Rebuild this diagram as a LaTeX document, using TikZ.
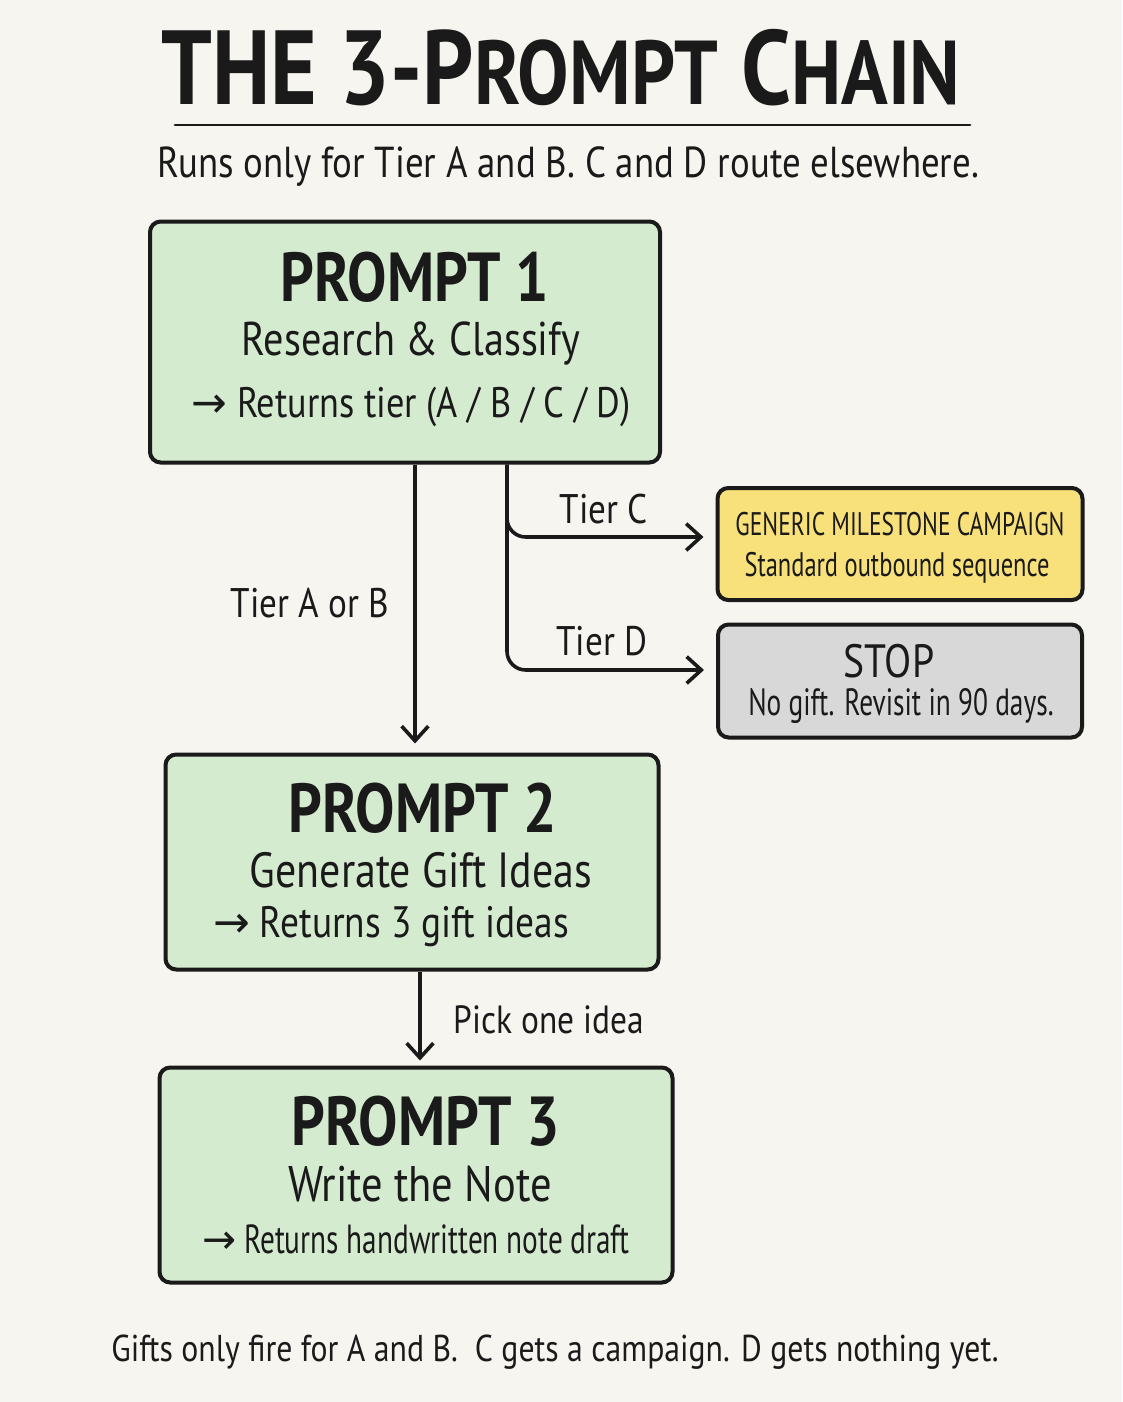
\documentclass[tikz,border=0pt]{standalone}
\usepackage{fontspec}
\usetikzlibrary{arrows.meta,calc}
\newfontfamily\hand[FakeStretch=0.85]{PT Sans}
\newfontfamily\handn[FakeStretch=0.72]{PT Sans}
\newfontfamily\symfont{DejaVu Sans}
\newcommand{\harr}{{\symfont →}}
\definecolor{bg}{HTML}{F7F5EF}
\definecolor{greenfill}{HTML}{D5EBD0}
\definecolor{yellowfill}{HTML}{F8E07A}
\definecolor{grayfill}{HTML}{D8D8D8}
\definecolor{ink}{HTML}{1A1A1A}
\newcommand{\fs}[1]{\fontsize{#1}{#1}\selectfont}
\tikzset{
  box/.style={draw=ink, line width=3pt, rounded corners=8pt, inner sep=0pt},
  greenbox/.style={box, fill=greenfill},
  yellowbox/.style={box, fill=yellowfill},
  graybox/.style={box, fill=grayfill},
  txt/.style={text=ink, inner sep=0pt},
  head/.style={txt, font=\hand\bfseries\fs{52}},
  lbl/.style={txt, font=\hand\fs{31}},
  arr/.style={draw=ink, line width=2.7pt, -{Straight Barb[length=11pt,width=20pt,line width=2.7pt]}},
}
\begin{document}
\begin{tikzpicture}[x=0.75pt,y=-0.75pt]
\fill[bg] (0,0) rectangle (1122,1402);
\useasboundingbox (0,0) rectangle (1122,1402);
% title
\node[txt, font=\hand\bfseries\fs{79}] (title) at (561,68)
  {THE 3-P{\fs{68}ROMPT} C{\fs{68}HAIN}};
\coordinate (ul1) at (175,125);
\coordinate (ul2) at (970,125);
\draw[ink, line width=2.2pt, line cap=round] (ul1) -- (ul2);
\node[txt, font=\hand\fs{32.5}] (sub) at (568,167) {Runs only for Tier A and B. C and D route elsewhere.};
% prompt 1
\node[greenbox, minimum width={510*0.75pt}, minimum height={241*0.75pt}] (p1) at (405,342) {};
\node[head] (p1h) at (415,277) {PROMPT 1};
\node[txt, font=\hand\fs{35.5}] (p1a) at (411,343) {Research \& Classify};
\node[txt, font=\hand\fs{32}] (p1b) at (411,407) {\harr\ Returns tier (A / B / C / D)};
% prompt 2
\node[greenbox, minimum width={493*0.75pt}, minimum height={215*0.75pt}] (p2) at (412,862) {};
\node[head] (p2h) at (423,808) {PROMPT 2};
\node[txt, font=\hand\fs{37}] (p2a) at (421,870) {Generate Gift Ideas};
\node[txt, font=\hand\fs{33}] (p2b) at (391,927) {\harr\ Returns 3 gift ideas};
% prompt 3
\node[greenbox, minimum width={513*0.75pt}, minimum height={215*0.75pt}] (p3) at (416,1175) {};
\node[head] (p3h) at (426,1121) {PROMPT 3};
\node[txt, font=\hand\fs{37.5}] (p3a) at (420,1184) {Write the Note};
\node[txt, font=\handn\fs{30.5}] (p3b) at (416,1239) {\harr\ Returns handwritten note draft};
% side boxes
\node[yellowbox, minimum width={365*0.75pt}, minimum height={112*0.75pt}] (yel) at (900,544) {};
\node[txt, font=\handn\fs{24.5}] (yela) at (900,524) {GENERIC MILESTONE CAMPAIGN};
\node[txt, font=\handn\fs{25.5}] (yelb) at (897,568) {Standard outbound sequence};
\node[graybox, minimum width={364*0.75pt}, minimum height={113*0.75pt}] (gry) at (900,681) {};
\node[txt, font=\hand\fs{35}] (gryh) at (889,661) {STOP};
\node[txt, font=\handn\fs{28.5}] (gryb) at (901,706) {No gift. Revisit in 90 days.};
% connectors
\coordinate (xa) at (415,0);
\coordinate (xc) at (507,0);
\coordinate (xb) at (420,0);
\draw[arr, shorten >=9*0.75pt] (p1.south -| xa) -- (p2.north -| xa);
\draw[arr, rounded corners=14pt, shorten >=12*0.75pt] (p1.south -| xc) |- ($(yel.west)+(0,-7)$);
\draw[arr, rounded corners=14pt, shorten >=12*0.75pt] (p1.south -| xc) |- ($(gry.west)+(0,-11)$);
\draw[arr, shorten >=5*0.75pt] (p2.south -| xb) -- (p3.north -| xb);
\node[lbl] (la) at (310,603) {Tier A or B};
\node[lbl] (lc) at (604,509) {Tier C};
\node[lbl] (ld) at (602,641) {Tier D};
\node[txt, font=\hand\fs{29.5}] (lp) at (549,1020) {Pick one idea};
% footer
\node[txt, font=\hand\fs{28}] (foot) at (555,1352) {Gifts only fire for A and B.\ \ C gets a campaign. D gets nothing yet.};
\end{tikzpicture}
\end{document}
